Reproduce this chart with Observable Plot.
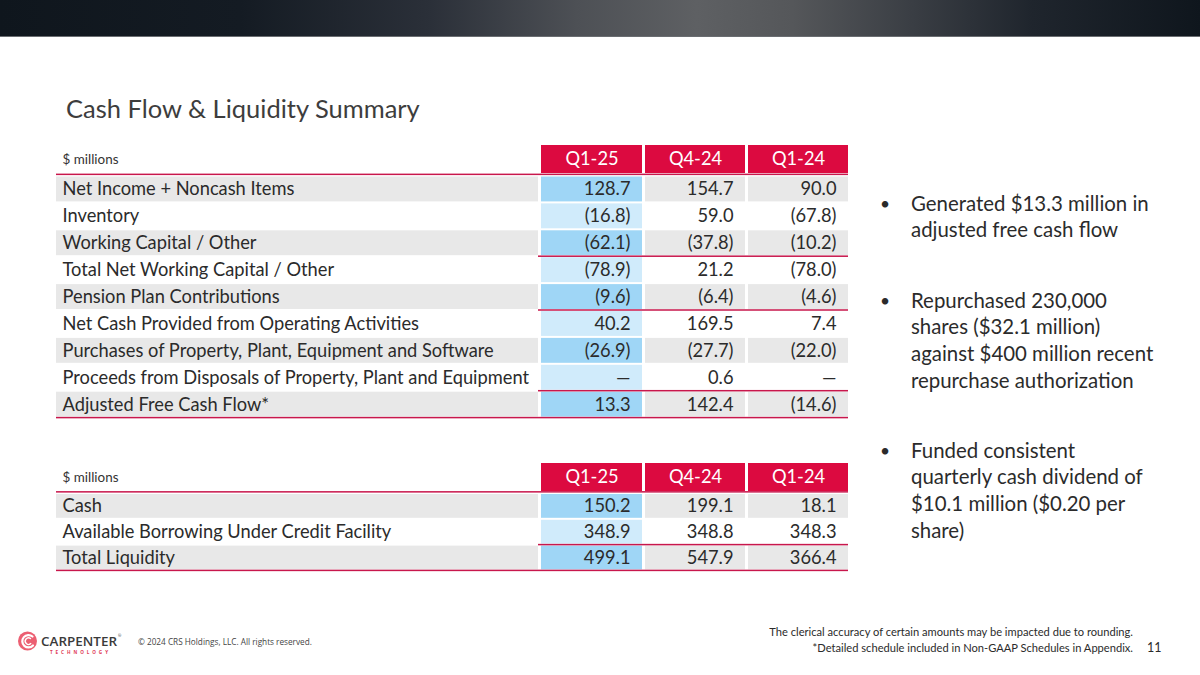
<!DOCTYPE html>
<html>
<head>
<meta charset="utf-8">
<script src="https://cdn.jsdelivr.net/npm/d3@7"></script>
<script src="https://cdn.jsdelivr.net/npm/@observablehq/plot@0.6"></script>
<style>
  html, body { margin: 0; padding: 0; background: #fff; }
  #page { position: relative; width: 1200px; height: 675px; overflow: hidden; font-family: Lato, "Open Sans", sans-serif; color: #2b2b2b; }
  .abs { position: absolute; white-space: nowrap; }
  #topbar { position: absolute; left: 0; top: 0; width: 1200px; height: 36px;
    background: linear-gradient(90deg, #0f161d 0%, #141b23 20%, #2b3039 36%, #4d5055 48%, #5e6063 58%, #55575a 66%, #3a3e44 76%, #1f252d 86%, #0f161d 100%);
    border-bottom: 1px solid #6a6d71; }
  svg.tbl { position: absolute; left: 0; overflow: visible; }
</style>
</head>
<body>
<div id="page">
  <div id="topbar"></div>
</div>
<script>
// ---------------- DATA ----------------
const titleText = "Cash Flow & Liquidity Summary";
const unitLabel = "$ millions";
const periods = ["Q1-25", "Q4-24", "Q1-24"];

const cashFlowItems = [
  "Net Income + Noncash Items",
  "Inventory",
  "Working Capital / Other",
  "Total Net Working Capital / Other",
  "Pension Plan Contributions",
  "Net Cash Provided from Operating Activities",
  "Purchases of Property, Plant, Equipment and Software",
  "Proceeds from Disposals of Property, Plant and Equipment",
  "Adjusted Free Cash Flow*"
];
const cashFlowQ125 = [128.7, -16.8, -62.1, -78.9, -9.6, 40.2, -26.9, null, 13.3];
const cashFlowQ424 = [154.7, 59.0, -37.8, 21.2, -6.4, 169.5, -27.7, 0.6, 142.4];
const cashFlowQ124 = [90.0, -67.8, -10.2, -78.0, -4.6, 7.4, -22.0, null, -14.6];
const cashFlowSubtotalsAfter = ["Working Capital / Other", "Pension Plan Contributions", "Proceeds from Disposals of Property, Plant and Equipment"];

const liquidityItems = ["Cash", "Available Borrowing Under Credit Facility", "Total Liquidity"];
const liquidityQ125 = [150.2, 348.9, 499.1];
const liquidityQ424 = [199.1, 348.8, 547.9];
const liquidityQ124 = [18.1, 348.3, 366.4];
const liquiditySubtotalsAfter = ["Available Borrowing Under Credit Facility"];

const bulletGroups = [
  ["Generated $13.3 million in", "adjusted free cash flow"],
  ["Repurchased 230,000", "shares ($32.1 million)", "against $400 million recent", "repurchase authorization"],
  ["Funded consistent", "quarterly cash dividend of", "$10.1 million ($0.20 per", "share)"]
];
const footnoteRounding = "The clerical accuracy of certain amounts may be impacted due to rounding.";
const footnoteSchedule = "*Detailed schedule included in Non-GAAP Schedules in Appendix.";
const pageNumber = "11";
const copyrightText = "\u00a9 2024 CRS Holdings, LLC. All rights reserved.";

// ---------------- STYLE ----------------
const RED = "#dc0a40", LINE = "#c8174c", GRAY = "#e8e8e8", BLUE_D = "#9fd6f6", BLUE_L = "#d0ebfb", WHITE = "#ffffff";
const INK = "#2b2b2b";
const FONT = "Lato";
const LABEL_X1 = 56, LABEL_X2 = 538, TEXT_X = 62;
const COLS = [[541, 642], [645, 745], [748, 848]];

const ctx = document.createElement("canvas").getContext("2d");
function fit(text, target, weight = 400, family = FONT) {
  ctx.font = `${weight} 100px ${family}`;
  return 100 * target / ctx.measureText(text).width;
}
const cellSize = fit("Proceeds from Disposals of Property, Plant and Equipment", 467);
const unitSize = fit("$ millions", 56);
const fmt = v => v == null ? "\u2014" : v < 0 ? `(${Math.abs(v).toFixed(1)})` : v.toFixed(1);

const page = document.getElementById("page");
function addText(text, {left, right, cy, size, color = INK, weight = 400, family = FONT, spacing = 0}) {
  const d = document.createElement("div");
  d.className = "abs";
  d.textContent = text;
  const lh = Math.round(size * 1.3);
  d.style.cssText += `font-size:${size}px;line-height:${lh}px;top:${cy - lh / 2}px;color:${color};font-weight:${weight};font-family:${family};letter-spacing:${spacing}px;`;
  if (left != null) d.style.left = left + "px";
  if (right != null) d.style.right = (1200 - right) + "px";
  page.appendChild(d);
  return d;
}

// ---------------- TABLE ----------------
function makeTable(items, series, subtotalsAfter, cfg) {
  const W = 860, bw = cfg.pitch, n = items.length;
  const HDR = "__hdr";
  const y0 = cfg.dataTop - cfg.top - bw;
  const y1 = cfg.dataTop - cfg.top + n * bw;
  const hdrBandTop = cfg.dataTop - bw;
  const hdrInsetTop = cfg.headerTop - hdrBandTop;
  const hdrInsetBottom = cfg.dataTop - cfg.headerBottom;
  const hdrDy = (cfg.headerTop + cfg.headerBottom) / 2 - (hdrBandTop + bw / 2);

  const rows = items.map((name, i) => ({name, fill: i % 2 === 0 ? GRAY : WHITE, x1: LABEL_X1, x2: LABEL_X2, tx: TEXT_X}));
  const cells = [];
  items.forEach((name, i) => periods.forEach((p, j) => {
    const stripe = i % 2 === 0;
    cells.push({name, value: series[j][i], x1: COLS[j][0], x2: COLS[j][1],
      fill: j === 0 ? (stripe ? BLUE_D : BLUE_L) : (stripe ? GRAY : WHITE)});
  }));
  const headers = periods.map((p, j) => ({p, row: HDR, x1: COLS[j][0], x2: COLS[j][1]}));
  const subLines = subtotalsAfter.map(name => ({name, x1: LABEL_X2, x2: COLS[2][1]}));
  const fullLines = [{name: items[n - 1], x1: LABEL_X1, x2: COLS[2][1]}];
  const hdrLine = [{row: HDR, x1: LABEL_X1, x2: COLS[2][1]}];

  const svg = Plot.plot({
    width: W, height: cfg.height,
    margin: 0,
    style: {background: "transparent", fontFamily: FONT},
    x: {domain: [0, W], range: [0, W], axis: null},
    y: {type: "band", domain: [HDR, ...items], range: [y0, y1], padding: 0, round: false, axis: null},
    color: {type: "identity"},
    marks: [
      Plot.barX(rows, {x1: "x1", x2: "x2", y: "name", fill: "fill", insetTop: 1, insetBottom: 1}),
      Plot.barX(cells, {x1: "x1", x2: "x2", y: "name", fill: "fill", insetTop: 1, insetBottom: 1}),
      Plot.barX(headers, {x1: "x1", x2: "x2", y: "row", fill: RED, insetTop: hdrInsetTop, insetBottom: hdrInsetBottom}),
      Plot.barX(hdrLine, {x1: "x1", x2: "x2", y: "row", fill: LINE, insetTop: bw - 1.9, insetBottom: 0.4}),
      Plot.barX(subLines, {x1: "x1", x2: "x2", y: "name", fill: LINE, insetTop: bw - 0.75, insetBottom: -0.75}),
      Plot.barX(fullLines, {x1: "x1", x2: "x2", y: "name", fill: LINE, insetTop: bw - 0.75, insetBottom: -0.75}),
      Plot.text(headers, {x: d => (d.x1 + d.x2) / 2, y: "row", text: "p", fill: "#ffffff", fontSize: cellSize, dy: hdrDy}),
      Plot.text([unitLabel], {x: () => TEXT_X, y: () => HDR, text: d => d, textAnchor: "start", fill: "#333333", fontSize: unitSize, dy: hdrDy}),
      Plot.text(rows, {x: "tx", y: "name", text: "name", textAnchor: "start", fill: INK, fontSize: cellSize}),
      Plot.text(cells, {x: d => d.x2 - 12, y: "name", text: d => fmt(d.value), textAnchor: "end", fill: INK, fontSize: cellSize})
    ]
  });
  svg.classList.add("tbl");
  svg.style.top = cfg.top + "px";
  page.appendChild(svg);
}

makeTable(cashFlowItems, [cashFlowQ125, cashFlowQ424, cashFlowQ124], cashFlowSubtotalsAfter,
  {top: 140, height: 285, headerTop: 145, headerBottom: 173, dataTop: 175.5, pitch: 26.9});
makeTable(liquidityItems, [liquidityQ125, liquidityQ424, liquidityQ124], liquiditySubtotalsAfter,
  {top: 455, height: 125, headerTop: 463, headerBottom: 491, dataTop: 493, pitch: 25.8});

// ---------------- TITLE ----------------
addText(titleText, {left: 66, cy: 108, size: fit(titleText, 355), color: "#3d3d3d"});

// ---------------- BULLETS ----------------
const bulletSize = fit("Generated $13.3 million in", 238);
const groupTops = [203, 300, 450];
bulletGroups.forEach((lines, g) => {
  addText("\u2022", {left: 880, cy: groupTops[g], size: bulletSize * 0.85, color: INK});
  lines.forEach((ln, k) => addText(ln, {left: 911, cy: groupTops[g] + k * 26.8, size: bulletSize, color: INK}));
});

// ---------------- FOOTER ----------------
const noteSize = fit(footnoteRounding, 365);
addText(footnoteRounding, {right: 1133, cy: 632, size: noteSize, color: INK});
addText(footnoteSchedule, {right: 1133, cy: 648, size: noteSize, color: INK});
addText(pageNumber, {left: 1147, cy: 648, size: 12.5, color: INK});
addText(copyrightText, {left: 138, cy: 641, size: fit(copyrightText, 174, 400, "Open Sans"), color: "#444444", family: "Open Sans"});

// logo
const logo = document.createElementNS("http://www.w3.org/2000/svg", "svg");
logo.setAttribute("width", 130); logo.setAttribute("height", 34);
logo.style.cssText = "position:absolute;left:12px;top:625px;";
logo.innerHTML = `
  <circle cx="15.5" cy="16" r="9.5" fill="#ec5f72"/>
  <path d="M20.5 11.5 A6.2 6.2 0 1 0 21 20.5" fill="none" stroke="#ffffff" stroke-width="2.2" stroke-linecap="round"/>
  <path d="M18.5 13.5 A3.3 3.3 0 1 0 18.8 18.6" fill="none" stroke="#ffffff" stroke-width="1.4" stroke-linecap="round"/>
  <text x="29" y="21" font-family="Open Sans" font-size="13.2" font-weight="600" fill="#3a3a3a" textLength="76" lengthAdjust="spacingAndGlyphs">CARPENTER</text>
  <text x="106" y="12" font-family="Open Sans" font-size="4" fill="#3a3a3a">\u00ae</text>
  <text x="38" y="28.5" font-family="Open Sans" font-size="4.6" font-weight="700" fill="#e03a55" textLength="58" lengthAdjust="spacing">TECHNOLOGY</text>`;
page.appendChild(logo);
</script>
</body>
</html>
